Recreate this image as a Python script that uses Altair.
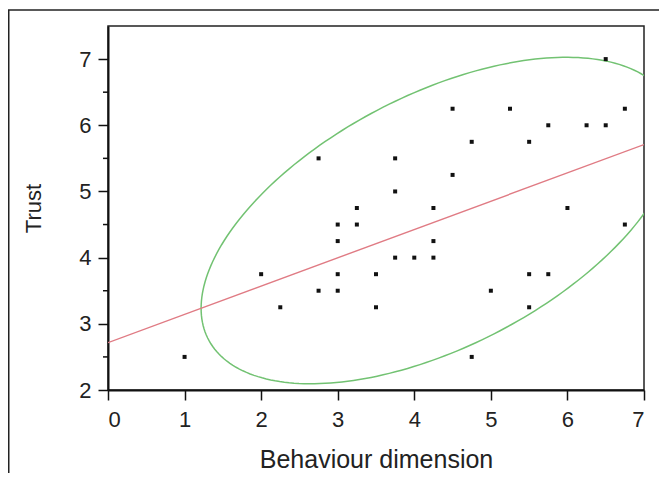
import altair as alt
import numpy as np
import pandas as pd

behaviour = [1, 2, 2.25, 2.75, 2.75, 3, 3, 3, 3, 3.25, 3.25, 3.5, 3.5, 3.75, 3.75, 3.75,
             4, 4.25, 4.25, 4.25, 4.5, 4.5, 4.75, 4.75, 5, 5.25, 5.5, 5.5, 5.5, 5.75, 5.75,
             6, 6.25, 6.5, 6.5, 6.75, 6.75]
trust = [2.5, 3.75, 3.25, 3.5, 5.5, 3.5, 3.75, 4.25, 4.5, 4.5, 4.75, 3.75, 3.25, 5.5, 5, 4,
         4, 4.75, 4.25, 4, 6.25, 5.25, 5.75, 2.5, 3.5, 6.25, 5.75, 3.75, 3.25, 6, 3.75,
         4.75, 6, 7, 6, 6.25, 4.5]
x_ticks = [0, 1, 2, 3, 4, 5, 6, 7]
y_ticks = [2, 3, 4, 5, 6, 7]
y_minor = [2.5, 3.5, 4.5, 5.5, 6.5]
ellipse_level = 0.90

df = pd.DataFrame({"x": behaviour, "y": trust})

# Bivariate normal density ellipse derived from the data
xy = np.array([behaviour, trust])
mean = xy.mean(axis=1)
cov = np.cov(xy)
c = -2 * np.log(1 - ellipse_level)
L = np.linalg.cholesky(cov)
t = np.linspace(0, 2 * np.pi, 241)
circ = np.vstack([np.cos(t), np.sin(t)])
pts = mean[:, None] + np.sqrt(c) * (L @ circ)
ell = pd.DataFrame({"x": pts[0], "y": pts[1], "o": np.arange(len(t))})

FONT = "Liberation Sans"
xs = alt.Scale(domain=[0, 7], nice=False)
ys = alt.Scale(domain=[2, 7.5], nice=False)

points = alt.Chart(df).mark_square(size=16, color="#111", opacity=1).encode(
    x=alt.X("x:Q", scale=xs, title="Behaviour dimension",
            axis=alt.Axis(values=x_ticks, format="d", grid=False, tickSize=10,
                          labelPadding=9, titlePadding=17, titleFontSize=25)),
    y=alt.Y("y:Q", scale=ys, title="Trust",
            axis=alt.Axis(values=y_ticks, format="d", grid=False, tickSize=10,
                          labelPadding=7, titlePadding=33, titleFontSize=22)),
)

fit = alt.Chart(df).transform_regression("x", "y", extent=[0, 7]).mark_line(
    color="#e07b84", strokeWidth=1.4, clip=True
).encode(x=alt.X("x:Q", scale=xs), y=alt.Y("y:Q", scale=ys))

ellipse = alt.Chart(ell).mark_line(color="#72c272", strokeWidth=1.5, clip=True).encode(
    x=alt.X("x:Q", scale=xs), y=alt.Y("y:Q", scale=ys), order="o:Q"
)

minor = alt.Chart(pd.DataFrame({"y": y_minor})).mark_rule(color="#111", strokeWidth=1.5).encode(
    y=alt.Y("y:Q", scale=ys), x=alt.value(-5), x2=alt.value(0)
)

one = alt.Data(values=[{"a": 1}])
frame_left = alt.Chart(one).mark_rule(color="#222", strokeWidth=2).encode(
    x=alt.value(-99.5), y=alt.value(-16), y2=alt.value(460)
)
frame_top = alt.Chart(one).mark_rule(color="#222", strokeWidth=1.5).encode(
    x=alt.value(-100), x2=alt.value(560), y=alt.value(-16)
)

chart = alt.layer(ellipse, fit, points, minor, frame_left, frame_top).properties(
    width=536, height=364,
    autosize=alt.AutoSizeParams(type="none"),
    padding={"left": 100, "top": 18, "right": 15, "bottom": 83},
).configure_view(stroke="#222", strokeWidth=1.5).configure_axis(
    domainColor="#111", domainWidth=2, tickColor="#111", tickWidth=1.5,
    labelFont=FONT, labelFontSize=22, labelColor="#222",
    titleFont=FONT, titleColor="#222", titleFontWeight="normal",
)

chart.save("out.html", embed_options={"renderer": "svg", "actions": False})
